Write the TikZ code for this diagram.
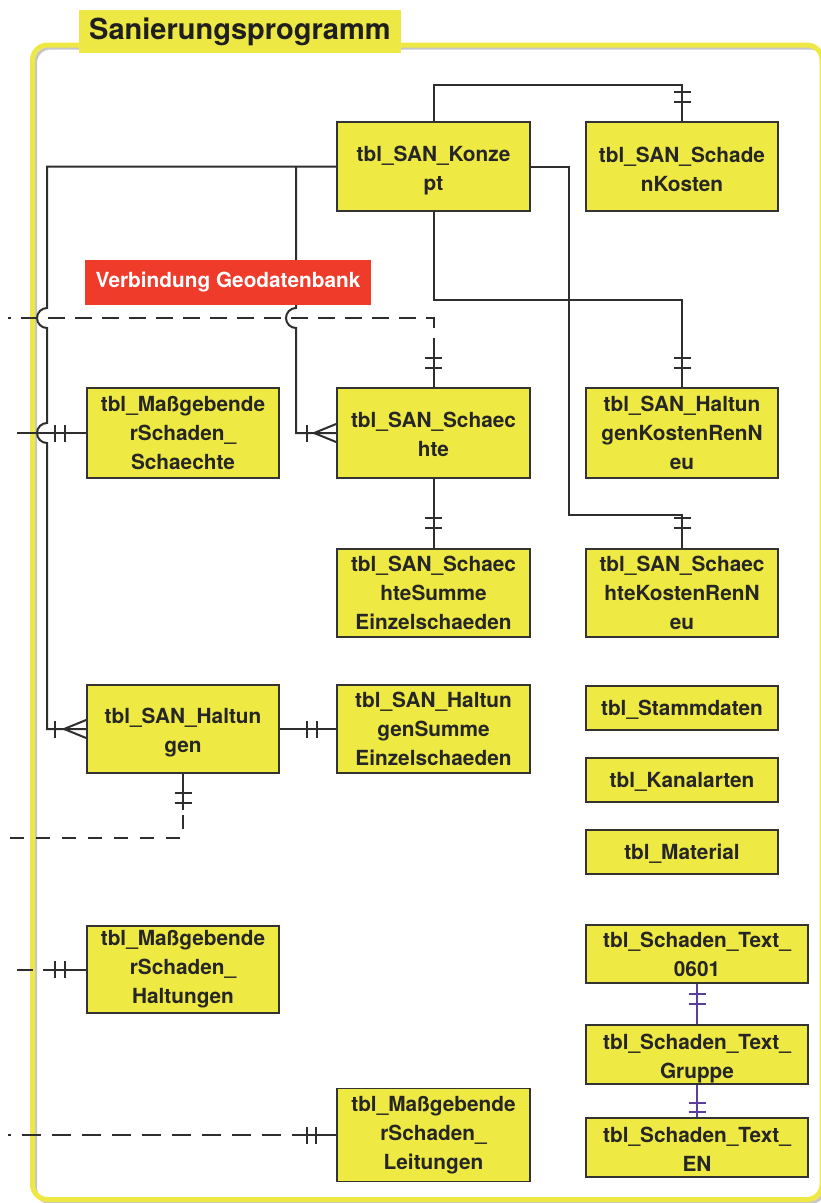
\documentclass[tikz,border=0pt]{standalone}
\usepackage{fontspec}
\setmainfont{TeX Gyre Heros}
\definecolor{frameyellow}{HTML}{EEE844}
\definecolor{boxfill}{HTML}{EEE943}
\definecolor{boxline}{HTML}{333333}
\definecolor{lin}{HTML}{2E2E2E}
\definecolor{redc}{HTML}{EE3B2A}
\definecolor{purp}{HTML}{5B3E9C}
% short bar across a vertical connector at (x,y)
\newcommand\barv[2]{\draw[conn] ({#1-8.5},#2) -- ({#1+8.5},#2);}
% short bar across a horizontal connector at (x,y)
\newcommand\barh[2]{\draw[conn] (#1,{#2-8.5}) -- (#1,{#2+8.5});}
% invisible strut that lowers a table caption a little
\newcommand\tophold[1]{\rule{0pt}{#1pt}}
\begin{document}
\begin{tikzpicture}[x=1pt,y=-1pt,
  tbl/.style={draw=boxline, line width=1.8pt, fill=boxfill, inner sep=0pt,
    align=center, text=black!85, font=\fontsize{20.8}{29}\selectfont\bfseries},
  conn/.style={draw=lin, line width=2pt},
  dashconn/.style={conn, dash pattern=on 17pt off 10pt},
  purpconn/.style={draw=purp, line width=2pt}]
\useasboundingbox (0,0) rectangle (820,1203);

% frame with its grey inner shadow
\draw[gray!45, line width=3pt, rounded corners=15pt] (35.5,48) rectangle (825,1202.5);
\draw[frameyellow, line width=5pt, rounded corners=15pt] (32.5,45) rectangle (822,1199.5);

% tables
\node[tbl, minimum width=193pt, minimum height=89pt] (konzept) at (433.5,166.5) {\tophold{23}tbl\_SAN\_Konze\\pt};
\node[tbl, minimum width=192pt, minimum height=89pt] (schadenkosten) at (682,166.5) {\tophold{21}tbl\_SAN\_Schade\\nKosten};
\node[tbl, minimum width=192pt, minimum height=90pt] (msschaechte) at (183,433) {tbl\_Maßgebende\\rSchaden\_\\Schaechte};
\node[tbl, minimum width=193pt, minimum height=90pt] (schaechte) at (433.5,433) {\tophold{19}tbl\_SAN\_Schaec\\hte};
\node[tbl, minimum width=192pt, minimum height=90pt] (haltkosten) at (682,433) {tbl\_SAN\_Haltun\\genKostenRenN\\eu};
\node[tbl, minimum width=193pt, minimum height=88pt] (schsumme) at (433.5,593) {tbl\_SAN\_Schaec\\hteSumme\\Einzelschaeden};
\node[tbl, minimum width=192pt, minimum height=88pt] (schkosten) at (682,593) {tbl\_SAN\_Schaec\\hteKostenRenN\\eu};
\node[tbl, minimum width=192pt, minimum height=88pt] (haltungen) at (183,729) {\tophold{23}tbl\_SAN\_Haltun\\gen};
\node[tbl, minimum width=193pt, minimum height=88pt] (halsumme) at (433.5,729) {tbl\_SAN\_Haltun\\genSumme\\Einzelschaeden};
\node[tbl, minimum width=192pt, minimum height=44pt] (stamm) at (682,708) {\tophold{19}tbl\_Stammdaten};
\node[tbl, minimum width=192pt, minimum height=44pt] (kanal) at (682,780) {\tophold{19}tbl\_Kanalarten};
\node[tbl, minimum width=192pt, minimum height=44pt] (material) at (682,852) {\tophold{19}tbl\_Material};
\node[tbl, minimum width=192pt, minimum height=87pt] (mshaltungen) at (183,969.5) {tbl\_Maßgebende\\rSchaden\_\\Haltungen};
\node[tbl, minimum width=222pt, minimum height=58pt] (text0601) at (697,954) {tbl\_Schaden\_Text\_\\0601};
\node[tbl, minimum width=222pt, minimum height=59pt] (gruppe) at (697,1054.5) {\tophold{24}tbl\_Schaden\_Text\_\\Gruppe};
\node[tbl, minimum width=222pt, minimum height=59pt] (en) at (697,1147.5) {\tophold{19}tbl\_Schaden\_Text\_\\EN};
\node[tbl, minimum width=193pt, minimum height=93pt] (msleitungen) at (433.5,1135) {tbl\_Maßgebende\\rSchaden\_\\Leitungen};

% Konzept -> SchadenKosten
\draw[conn] (konzept.north) -- ++(0,-36) -| (schadenkosten.north);
\barv{682}{92} \barv{682}{102}
% Konzept -> SchaechteKostenRenNeu
\draw[conn] (konzept.east) -- (569,166.5) -- (569,515) -| (schkosten.north);
\barv{682}{518} \barv{682}{528}
% Konzept -> HaltungenKostenRenNeu
\draw[conn] (konzept.south) -- (433.5,300) -| (haltkosten.north);
\barv{682}{358} \barv{682}{368}
% Konzept -> Haltungen (hops over the crossing lines)
\draw[conn] (konzept.west) -- (47,166.5) -- (47,308)
  .. controls (41.5,308) and (37,312.5) .. (37,318)
  .. controls (37,323.5) and (41.5,328) .. (47,328) -- (47,423)
  .. controls (41.5,423) and (37,427.5) .. (37,433)
  .. controls (37,438.5) and (41.5,443) .. (47,443) -- (47,729) -- (haltungen.west);
\barh{55}{729}
\draw[conn] (haltungen.west) ++(-22,0) -- ++(22,-9);
\draw[conn] (haltungen.west) ++(-22,0) -- ++(22,9);
% Konzept -> Schaechte
\draw[conn] (296,166.5) -- (296,308)
  .. controls (290.5,308) and (286,312.5) .. (286,318)
  .. controls (286,323.5) and (290.5,328) .. (296,328) -- (296,433) -- (schaechte.west);
\barh{307}{433}
\draw[conn] (schaechte.west) ++(-22,0) -- ++(22,-9);
\draw[conn] (schaechte.west) ++(-22,0) -- ++(22,9);
% Geodatenbank link -> Schaechte
\draw[dashconn, dash phase=14pt] (8,318) -- (433.5,318) -- (433.5,352);
\draw[conn] (433.5,352) -- (schaechte.north);
\barv{433.5}{358} \barv{433.5}{368}
% MassgebenderSchaden_Schaechte
\draw[conn] (17,433) -- (msschaechte.west);
\barh{55}{433} \barh{65}{433}
% Schaechte -> SchaechteSumme
\draw[conn] (schaechte.south) -- (schsumme.north);
\barv{433.5}{518} \barv{433.5}{528}
% Haltungen -> Geodatenbank
\draw[conn] (haltungen.south) -- (183,810);
\barv{183}{793} \barv{183}{803}
\draw[dashconn, dash pattern=on 14pt off 12pt] (10,838) -- (183,838) -- (183,812);
% Haltungen -> HaltungenSumme
\draw[conn] (haltungen.east) -- (halsumme.west);
\barh{307}{729} \barh{317}{729}
% MassgebenderSchaden_Haltungen
\draw[conn] (17,969.5) -- (33,969.5);
\draw[conn] (43,969.5) -- (mshaltungen.west);
\barh{55}{969.5} \barh{65}{969.5}
% MassgebenderSchaden_Leitungen
\draw[dashconn, dash pattern=on 19pt off 11pt, dash phase=16pt] (8,1135) -- (300,1135);
\draw[conn] (298,1135) -- (msleitungen.west);
\barh{307}{1135} \barh{316}{1135}
% Schaden_Text chain
\draw[purpconn] (text0601.south) -- (gruppe.north);
\draw[purpconn] (688.5,994) -- (705.5,994);
\draw[purpconn] (688.5,1004) -- (705.5,1004);
\draw[purpconn] (gruppe.south) -- (en.north);
\draw[purpconn] (688.5,1103) -- (705.5,1103);
\draw[purpconn] (688.5,1112) -- (705.5,1112);

% Geodatenbank label and title
\node[fill=redc, minimum width=286pt, minimum height=45pt, inner sep=0pt, text=white,
  font=\fontsize{20.8}{24}\selectfont\bfseries] (geo) at (228,282.5) {Verbindung Geodatenbank};
\node[fill=frameyellow, anchor=west, inner xsep=10pt, inner ysep=0pt, minimum height=43pt,
  font=\fontsize{29}{32}\selectfont\bfseries, text=black!88] (title) at (79,31.5) {Sanierungsprogramm};
\end{tikzpicture}
\end{document}
